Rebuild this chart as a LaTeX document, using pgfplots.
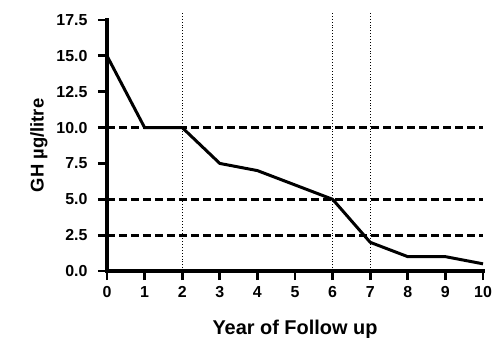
\documentclass[border=0pt]{standalone}
\usepackage{pgfplots}
\pgfplotsset{compat=1.18}
\usepackage{fontspec}
\setmainfont{Liberation Sans}
\begin{document}
\begin{tikzpicture}
\begin{axis}[
  name=ax,
  scale only axis,
  width=376bp, height=251bp,
  xmin=0, xmax=10, ymin=0, ymax=17.5,
  axis x line*=bottom, axis y line*=left,
  x axis line style={line width=3.5pt, line cap=rect, black},
  y axis line style={line width=3.5pt, line cap=rect, black},
  xtick={0,1,...,10}, ytick={0,2.5,...,17.5},
  xtick style={line width=3pt, black},
  ytick style={line width=3pt, black},
  major tick length=9bp,
  xtick align=outside, ytick align=outside,
  ticklabel style={font=\bfseries\fontsize{16}{18}\selectfont},
  /pgf/number format/assume math mode=true,
  yticklabel style={/pgf/number format/fixed, /pgf/number format/fixed zerofill, /pgf/number format/precision=1, xshift=-7bp},
  xticklabel style={yshift=-3bp},
  xlabel={Year of Follow up},
  ylabel={GH µg/litre},
  xlabel style={font=\bfseries\fontsize{20}{22}\selectfont, yshift=-15bp},
  ylabel style={font=\bfseries\fontsize{18.5}{20}\selectfont, yshift=2bp},
  clip=false,
]
\addplot[black, line width=2.8pt, dash pattern=on 8bp off 4bp] coordinates {(0,10) (10,10)};
\addplot[black, line width=2.8pt, dash pattern=on 8bp off 4bp] coordinates {(0,5) (10,5)};
\addplot[black, line width=2.8pt, dash pattern=on 8bp off 4bp] coordinates {(0,2.5) (10,2.5)};
\addplot[black, line width=0.9pt, dotted] coordinates {(2,0) (2,18)};
\addplot[black, line width=0.9pt, dotted] coordinates {(6,0) (6,18)};
\addplot[black, line width=0.9pt, dotted] coordinates {(7,0) (7,18)};
\addplot[black, line width=3pt, line join=miter] coordinates {
(0,15) (1,10) (2,10) (3,7.5) (4,7) (5,6) (6,5) (7,2) (8,1) (9,1) (10,0.5)};
\end{axis}
\pgfresetboundingbox
\path (ax.south west) ++(-107bp,-67bp) coordinate (bl);
\path (ax.north east) ++(11bp,20bp) coordinate (tr);
\useasboundingbox (bl) rectangle (tr);
\end{tikzpicture}
\end{document}
